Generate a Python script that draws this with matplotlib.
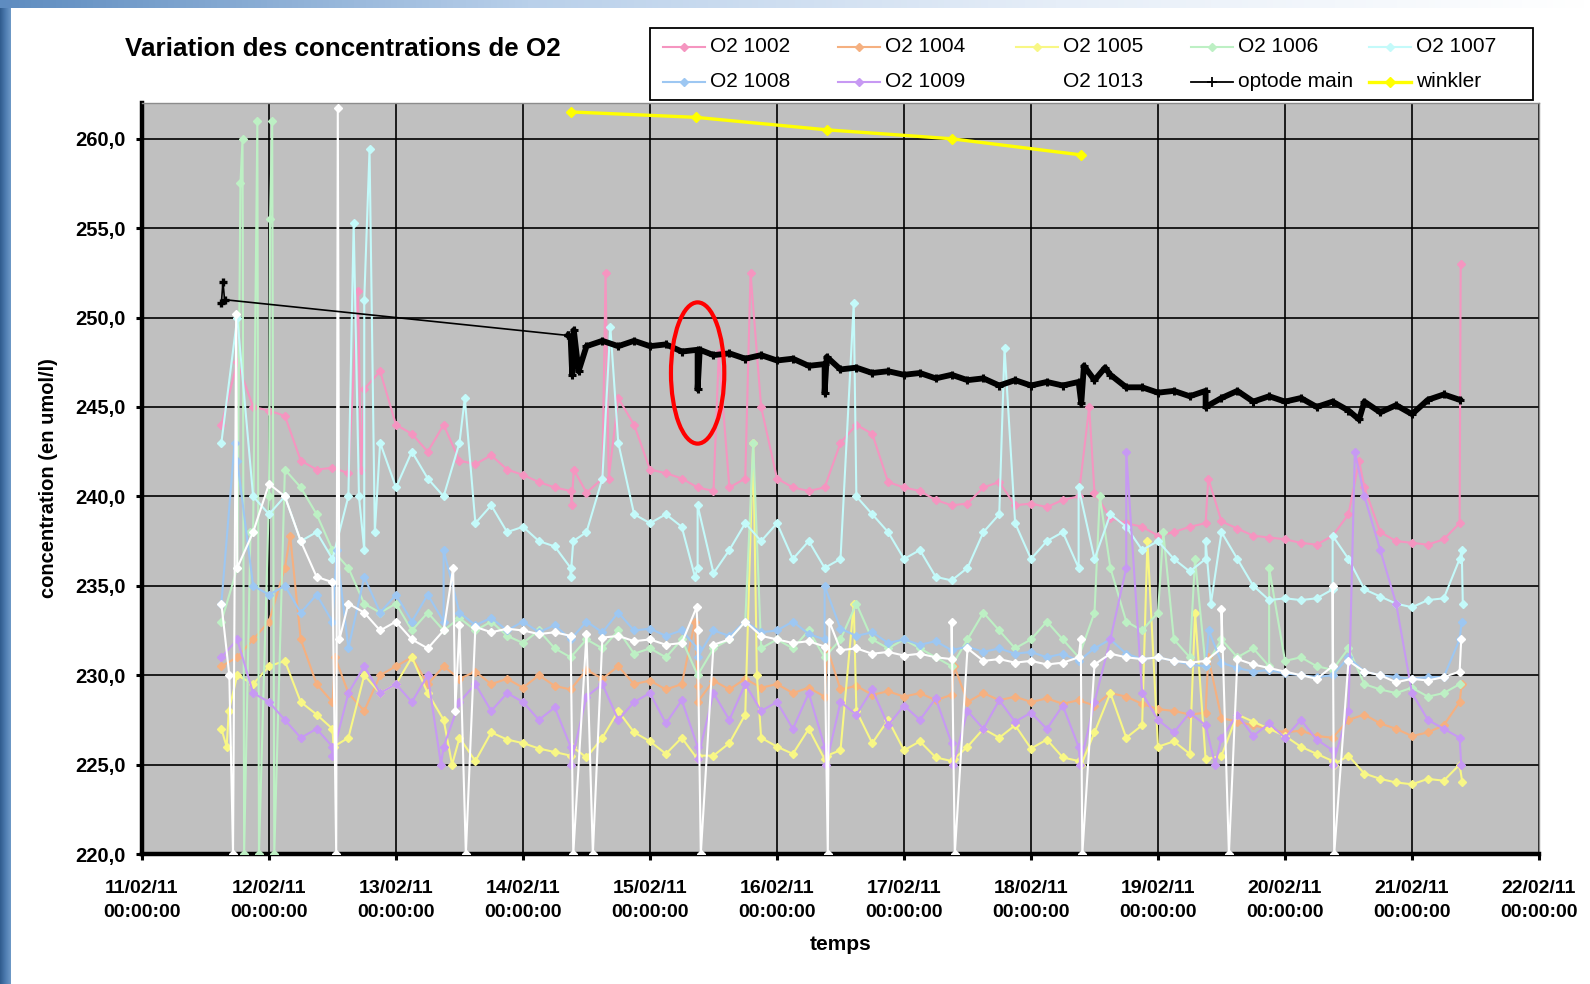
import numpy as np
import pandas as pd
import matplotlib
matplotlib.use("Agg")
import matplotlib.pyplot as plt
import matplotlib.dates as mdates
from matplotlib.patches import Ellipse, Rectangle
from matplotlib.lines import Line2D
from matplotlib.colors import LinearSegmentedColormap

# ---------------------------------------------------------------- data
DEBUT = pd.Timestamp("2011-02-11 00:00")
H0 = 15       # heure du premier echantillon regulier (depuis 11/02 00:00)
PAS_H = 3     # pas des echantillons reguliers (heures)

o2_1002 = [244, 247.5, 245, 244.8, 244.5, 242, 241.5, 241.6, 241.3, 246, 247, 244, 243.5, 242.5,
           244, 242, 241.8, 242.3, 241.5, 241.2, 240.8, 240.5, 240.3, 240.2, 241, 245.5, 244, 241.5,
           241.3, 241, 240.5, 240.3, 240.5, 241, 245, 241, 240.5, 240.3, 240.5, 243, 244, 243.5,
           240.8, 240.5, 240.3, 239.8, 239.5, 239.6, 240.5, 240.8, 239.5, 239.6, 239.4, 239.8, 240,
           240.2, 238.8, 238.5, 238.3, 237.8, 238, 238.3, 238.5, 238.6, 238.2, 237.8, 237.7, 237.6,
           237.4, 237.3, 237.8, 239, 240.5, 238, 237.5, 237.4, 237.3, 237.6, 238.5]
pics_1002 = [(40.8, 251.5), (41.4, 241.5), (81.2, 239.5), (81.6, 241.5), (87.6, 252.5), (88.2, 241),
             (109, 248), (115, 252.5), (179, 245), (201.5, 241), (230, 242), (249.2, 253)]

o2_1004 = [230.5, 231, 232, 233, 236, 232, 229.5, 228.5, 229, 228, 230, 230.5, 231, 229.5, 230.5,
           229.8, 230.2, 229.5, 229.8, 229.3, 230, 229.4, 229.2, 230.3, 229.8, 230.5, 229.5, 229.7,
           229.2, 229.5, 229.4, 229.7, 229.2, 229.8, 229.3, 229.5, 229, 229.3, 228.8, 229.2, 229.4,
           228.9, 229.1, 228.8, 229, 228.6, 228.9, 228.5, 229, 228.6, 228.8, 228.5, 228.7, 228.4,
           228.6, 228.3, 229, 228.8, 228.4, 228.1, 228, 227.8, 227.9, 227.6, 227.4, 227.2, 227,
           226.8, 226.9, 226.6, 226.5, 227.5, 227.8, 227.3, 227, 226.6, 226.8, 227.2, 228.5]
pics_1004 = [(28, 237.8), (36.5, 231), (104.5, 233), (105, 228.5), (129.5, 231.5), (153.5, 230.5),
             (201.5, 231), (249.4, 229.5)]

o2_1005 = [227, 230, 229.5, 230.5, 230.8, 228.5, 227.8, 227, 226.5, 230, 229, 229.5, 231, 229, 227.5,
           226.5, 225.2, 226.8, 226.4, 226.2, 225.9, 225.7, 225.5, 225.4, 226.5, 228, 226.8, 226.3,
           225.6, 226.5, 225.3, 225.5, 226.2, 227.8, 226.5, 226, 225.6, 227, 225.3, 225.8, 228,
           226.2, 227.5, 225.8, 226.3, 225.4, 225.2, 226, 227, 226.5, 227.2, 225.9, 226.4, 225.4,
           225.2, 226.8, 229, 226.5, 227.2, 226, 226.3, 225.6, 225.3, 225.5, 227.8, 227.4, 227,
           226.6, 226, 225.6, 225.2, 225.5, 224.5, 224.2, 224, 223.9, 224.2, 224.1, 225]
pics_1005 = [(16, 226), (16.4, 228), (36.2, 226), (58.6, 225), (81.3, 226), (105, 225.5),
             (115.5, 243), (116.2, 230), (129.4, 225.5), (134.5, 234), (153.4, 225.3),
             (177.5, 225), (190, 237.5), (199, 233.5), (225.2, 225), (249.5, 224)]

o2_1006 = [233, 236, 238, 240, 241.5, 240.5, 239, 237, 236, 234, 233.5, 234, 232.5, 233.5, 232.5,
           233.2, 232.5, 233, 232.2, 231.8, 232.5, 231.5, 231, 232, 231.5, 232.5, 231.2, 231.5, 231,
           232, 230, 231.5, 232, 233, 231.5, 232, 231.5, 232.5, 231, 232, 234, 232, 231.5, 232,
           231.5, 231, 230.5, 232, 233.5, 232.5, 231.5, 232, 233, 232, 231, 233.5, 236, 233, 232.5,
           233.5, 232, 231, 230.5, 232, 231, 231.5, 230.5, 230.8, 231, 230.5, 230.3, 231.5, 229.5,
           229.2, 229, 229.3, 228.8, 229, 229.5]
pics_1006 = [(18.6, 257.5), (19, 260), (19.3, 220), (20.5, 238), (21.8, 261), (22.1, 220),
             (24.2, 255.5), (24.6, 261), (25, 220), (115.5, 243), (181, 240), (193, 238),
             (199, 236.5), (213, 236)]

o2_1007 = [243, 250, 240, 239, 240, 237.5, 238, 236.5, 240, 237, 243, 240.5, 242.5, 241, 240, 243,
           238.5, 239.5, 238, 238.3, 237.5, 237.2, 236, 238, 241, 243, 239, 238.5, 239, 238.3, 236,
           235.7, 237, 238.5, 237.5, 238.5, 236.5, 237.5, 236, 236.5, 240, 239, 238, 236.5, 237,
           235.5, 235.3, 236, 238, 239, 238.5, 236.5, 237.5, 238, 236, 236.5, 239, 238.3, 237,
           237.5, 236.5, 235.8, 236.5, 238, 236.5, 235, 234.2, 234.3, 234.2, 234.3, 234.8, 236.5,
           234.8, 234.4, 234, 233.8, 234.2, 234.3, 236.5]
pics_1007 = [(40, 255.3), (41, 240), (42, 251), (43, 259.4), (44, 238), (61, 245.5),
             (81, 235.5), (81.5, 237.5), (88.5, 249.5), (104.5, 235.5), (105, 239.5),
             (134.5, 250.8), (163, 248.3), (177, 240.5), (201, 237.5), (202, 234), (225, 237.8),
             (249.4, 237), (249.6, 234)]

o2_1008 = [234, 242, 235, 234.5, 235, 233.5, 234.5, 233, 231.5, 235.5, 233.5, 234.5, 233, 234.5,
           233, 233.5, 232.8, 233.2, 232.5, 233, 232.4, 232.8, 232, 233, 232.4, 233.5, 232.5, 232.6,
           232.2, 232.5, 231.5, 232.5, 232.2, 233, 232.4, 232.5, 233, 232.3, 232, 232.6, 232.2,
           232.4, 231.8, 232, 231.7, 231.9, 231.4, 231.6, 231.3, 231.5, 231.2, 231.3, 231, 231.2,
           230.8, 231.5, 232, 231.2, 230.9, 231, 230.8, 230.6, 230.5, 230.7, 230.4, 230.2, 230.3,
           230.1, 230, 229.9, 230, 231, 230.2, 230, 229.9, 229.8, 229.9, 229.9, 232]
pics_1008 = [(17.5, 243), (36.8, 237), (57, 237), (105, 231), (129, 235), (201.6, 232.5),
             (249.4, 233)]

o2_1009 = [231, 232, 229, 228.5, 227.5, 226.5, 227, 226, 229, 230.5, 229, 229.5, 228.5, 230, 226,
           228.5, 229.5, 228, 229, 228.5, 227.5, 228.2, 226, 228.8, 229.5, 227.5, 228.5, 229, 227.3,
           228.6, 226, 229, 227.5, 229.5, 228, 228.5, 227, 229, 226, 228.5, 227.8, 229.2, 227.2,
           228.3, 227.5, 228.7, 226.2, 228, 227, 228.6, 227.4, 227.9, 227, 228.3, 226, 228.5, 232,
           236, 229, 227.5, 226.8, 227.9, 227.2, 226.5, 227.8, 226.6, 227.3, 226.5, 227.5, 226.4,
           225.8, 228, 240, 237, 234, 229, 227.5, 227, 226.5]
pics_1009 = [(36, 225.5), (56.5, 225), (81, 225), (105, 225.3), (129.3, 225), (153.3, 225),
             (177.3, 225), (186, 242.5), (202.8, 225), (225, 225), (229.2, 242.5), (249.3, 225)]

o2_1013 = [234, 236, 238, 240.7, 240, 237.5, 235.5, 235.2, 234, 233.5, 232.5, 233, 232, 231.5,
           232.5, 232.8, 232.7, 232.4, 232.6, 232.5, 232.3, 232.4, 232.2, 232.3, 232.1, 232.2,
           231.9, 232, 231.7, 231.8, 232.5, 231.7, 232, 233, 232.2, 232, 231.8, 231.9, 231.6,
           231.4, 231.5, 231.2, 231.3, 231.1, 231.2, 231, 230.9, 231.5, 230.8, 230.9, 230.7, 230.8,
           230.6, 230.7, 231, 230.6, 231.2, 231, 230.9, 231, 230.8, 230.7, 230.8, 231.5, 230.9,
           230.6, 230.4, 230.2, 230, 229.8, 230.5, 230.8, 230.2, 230, 229.6, 229.8, 229.7, 229.9,
           230.2]
pics_1013 = [(16.5, 230), (17.2, 220), (17.8, 250.2), (36.7, 220), (37, 261.7), (37.3, 232),
             (58.8, 236), (59.2, 228), (61.2, 220), (81.5, 220), (85.2, 220), (104.8, 233.8),
             (105.6, 220), (129.6, 220), (129.9, 233), (153, 233), (153.6, 220), (177.4, 232),
             (177.7, 220), (204, 233.7), (205.4, 220), (225, 235), (225.3, 220), (249.3, 232)]

# optode main : debut isole, puis echantillons reguliers a partir de 81 h
optode_debut_h = [15, 15.3, 15.6, 80.5]
optode_debut_v = [250.8, 252, 251, 249]
H0_OPTODE = 81
optode_main = [248.9, 248.4, 248.7, 248.4, 248.7, 248.4, 248.5, 248.1, 248.2, 247.9, 248.0, 247.7,
               247.9, 247.6, 247.7, 247.3, 247.4, 247.1, 247.2, 246.9, 247.0, 246.8, 246.9, 246.6,
               246.8, 246.5, 246.6, 246.2, 246.5, 246.2, 246.4, 246.2, 246.4, 246.5, 246.8, 246.1,
               246.1, 245.8, 245.9, 245.6, 245.9, 245.5, 245.9, 245.3, 245.6, 245.3, 245.5, 245.0,
               245.3, 244.8, 245.3, 244.7, 245.1, 244.6, 245.4, 245.7, 245.4]
pics_optode = [(81.3, 246.8), (81.6, 249.3), (82.5, 247), (105, 246), (105.4, 248.2),
               (129, 245.8), (129.4, 247.8), (177.5, 245.2), (178, 247.3), (182, 247.2),
               (201, 245), (230, 244.3)]

winkler_h = [81, 104.6, 129.4, 153, 177.4]
winkler_v = [261.5, 261.2, 260.5, 260.0, 259.1]

noms = ["O2 1002", "O2 1004", "O2 1005", "O2 1006", "O2 1007", "O2 1008", "O2 1009", "O2 1013"]
series = [o2_1002, o2_1004, o2_1005, o2_1006, o2_1007, o2_1008, o2_1009, o2_1013]
pics = [pics_1002, pics_1004, pics_1005, pics_1006, pics_1007, pics_1008, pics_1009, pics_1013]
couleurs = ["#F595C0", "#F5B080", "#F8F785", "#BDF0C4", "#C4FAFA", "#9DC7F2", "#C799F3", "#FFFFFF"]

jours = pd.date_range("2011-02-11", "2011-02-22", freq="D")
y_ticks = [220, 225, 230, 235, 240, 245, 250, 255, 260]

# ---------------------------------------------------------------- helpers
X0 = mdates.date2num(DEBUT.to_pydatetime())


def to_x(hours):
    return X0 + np.asarray(hours, dtype=float) / 24.0


def merge(h0, valeurs, extra):
    h = list(h0 + PAS_H * np.arange(len(valeurs)))
    v = list(valeurs)
    for hh, vv in extra:
        h.append(hh)
        v.append(vv)
    order = np.argsort(h, kind="stable")
    return to_x(np.array(h)[order]), np.array(v)[order]


# ---------------------------------------------------------------- figure
plt.rcParams["font.family"] = ["Liberation Sans", "DejaVu Sans"]
W, H = 1590, 984
fig = plt.figure(figsize=(W / 100, H / 100), dpi=100)
fig.patch.set_facecolor("white")

# slide decoration (left blue strip and top light band)
bg = fig.add_axes([0, 0, 1, 1], zorder=-10)
bg.set_xlim(0, W)
bg.set_ylim(H, 0)
bg.axis("off")
grad = np.linspace(0, 1, 256)[None, :]
cm_left = LinearSegmentedColormap.from_list("l", ["#2F5A8C", "#4D7CB0", "#6F9AC8"])
bg.imshow(grad, extent=(0, 11, H, 0), cmap=cm_left, aspect="auto")
cm_top = LinearSegmentedColormap.from_list("t", ["#5E8CC0", "#B9D0EA", "#E6EEF8", "#FFFFFF"])
bg.imshow(grad, extent=(0, W, 8, 0), cmap=cm_top, aspect="auto")

ax = fig.add_axes([142 / W, 1 - 854 / H, (1539 - 142) / W, (854 - 103) / H])
ax.set_facecolor("#C0C0C0")

for nom, vals, pk, c in zip(noms, series, pics, couleurs):
    x, y = merge(H0, vals, pk)
    ax.plot(x, y, color=c, lw=1.5, marker="D", ms=3.6, mec=c, mfc=c, zorder=3)

# optode main
xd = to_x(optode_debut_h)
xo, yo = merge(H0_OPTODE, optode_main, pics_optode)
xo = np.concatenate([xd, xo])
yo = np.concatenate([optode_debut_v, yo])
ax.plot(xo[:4], yo[:4], color="black", lw=1.2, marker="+", ms=6, mew=2.4, zorder=4)
ax.plot(xo[3:], yo[3:], color="black", lw=4.2, marker="+", ms=6, mew=2.2, zorder=4)

# winkler
ax.plot(to_x(winkler_h), winkler_v, color="#FFFF00", lw=2.4, marker="D", ms=5, zorder=5)

# red ellipse highlighting the dip of 15/02
ell = Ellipse((to_x(105), 246.9), width=0.42, height=7.9, fill=False, edgecolor="#FF0000",
              lw=3.0, zorder=6)
ax.add_patch(ell)

# axes
ax.set_xlim(mdates.date2num(jours[0].to_pydatetime()), mdates.date2num(jours[-1].to_pydatetime()))
ax.set_ylim(220, 262.0)
ax.set_xticks([mdates.date2num(d.to_pydatetime()) for d in jours])
ax.set_xticklabels([d.strftime("%d/%m/%y\n%H:%M:%S") for d in jours], fontsize=14,
                   fontweight="bold", linespacing=1.5)
ax.set_yticks(y_ticks)
ax.set_yticklabels([f"{v:.1f}".replace(".", ",") for v in y_ticks], fontsize=14.5,
                   fontweight="bold")
ax.tick_params(axis="both", direction="out", length=4, width=2.2, color="black")
ax.tick_params(axis="x", pad=15)
ax.tick_params(axis="y", pad=8)
ax.grid(True, color="black", lw=1.2)
ax.set_axisbelow(True)
for s in ["left", "bottom"]:
    ax.spines[s].set_linewidth(3.2)
    ax.spines[s].set_color("black")
for s in ["top", "right"]:
    ax.spines[s].set_linewidth(1.0)
    ax.spines[s].set_color("#8C8C8C")

ax.set_ylabel("concentration (en umol/l)", fontsize=14.5, fontweight="bold", labelpad=12)
ax.set_xlabel("temps", fontsize=15, fontweight="bold", labelpad=10)

fig.text(125 / W, 1 - 49 / H, "Variation des concentrations de O2", fontsize=18.7,
         fontweight="bold", ha="left", va="center")

# ---------------------------------------------------------------- legend (drawn manually, row-major)
leg_noms = noms + ["optode main", "winkler"]
leg_styles = [dict(color=c, lw=1.5, marker="D", ms=3.6) for c in couleurs] + [
    dict(color="black", lw=1.3, marker="+", ms=7, mew=1.3),
    dict(color="#FFFF00", lw=2.4, marker="D", ms=5)]
fig.add_artist(Rectangle((650 / W, 1 - 100 / H), (1533 - 650) / W, 72 / H, transform=fig.transFigure,
                         facecolor="white", edgecolor="black", lw=1.3, zorder=5))
col_x = [663, 838, 1016, 1191, 1369]
row_y = [46.5, 81.5]
HANDLE = 42
for k, (nom, st) in enumerate(zip(leg_noms, leg_styles)):
    r, c = divmod(k, 5)
    x0 = col_x[c]
    yy = 1 - row_y[r] / H
    st_line = {kk: vv for kk, vv in st.items() if kk in ("color", "lw")}
    fig.add_artist(Line2D([x0 / W, (x0 + HANDLE) / W], [yy, yy], transform=fig.transFigure,
                          zorder=6, **st_line))
    fig.add_artist(Line2D([(x0 + HANDLE / 2) / W], [yy], transform=fig.transFigure, lw=0,
                          marker=st["marker"], ms=st["ms"], mew=st.get("mew", 1.0),
                          color=st["color"], zorder=6))
    fig.text((x0 + HANDLE + 5) / W, yy, nom, fontsize=15, ha="left", va="center", zorder=7)

fig.savefig("out.png", dpi=100, facecolor="white")
